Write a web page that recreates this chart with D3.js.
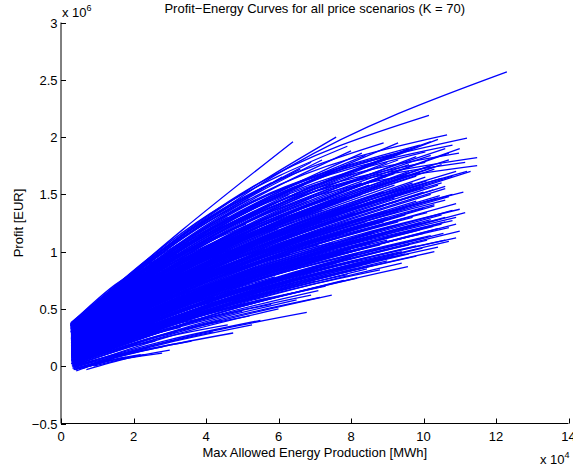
<!DOCTYPE html>
<html>
<head>
<meta charset="utf-8">
<script src="https://d3js.org/d3.v7.min.js"></script>
<style>
  body { margin: 0; background: #fff; }
  text { font-family: "Liberation Sans", Arial, Helvetica, sans-serif; fill: #000; }
</style>
</head>
<body>
<svg id="chart" width="573" height="470"></svg>
<script>
// Axis ticks (energy in 1e4 MWh, profit in 1e6 EUR)
const xTicks = [0, 2, 4, 6, 8, 10, 12, 14];
const yTicks = [-0.5, 0, 0.5, 1, 1.5, 2, 2.5, 3];
const titleText = "Profit\u2212Energy Curves for all price scenarios (K = 70)";
const xLabelText = "Max Allowed Energy Production [MWh]";
const yLabelText = "Profit [EUR]";

// Each curve: [x0, y0, xMid, yMid, x1, y1]
const outlierCurves = [
  [0.28, 0.37, 6.3, 1.74, 12.3, 2.57],
  [0.28, 0.36, 3.35, 1.19, 6.4, 1.96],
  [0.28, 0.36, 3.95, 1.28, 7.59, 2.0],
  [0.28, 0.35, 5.2, 1.55, 10.15, 2.19]
];

const upperCurves = [
  [0.3, 0.36, 5.47, 1.5, 10.65, 2.02],
  [0.3, 0.35, 5.75, 1.47, 11.2, 1.99],
  [0.3, 0.34, 5.55, 1.44, 10.8, 1.93],
  [0.3, 0.35, 5.64, 1.42, 10.98, 1.86],
  [0.3, 0.33, 5.9, 1.4, 11.48, 1.82],
  [0.3, 0.32, 5.9, 1.36, 11.48, 1.75],
  [0.3, 0.34, 5.72, 1.38, 11.15, 1.78],
  [0.29, 0.37, 4.1, 1.33, 7.9, 1.92],
  [0.3, 0.36, 4.6, 1.4, 8.9, 1.95],
  [0.3, 0.35, 5.1, 1.4, 9.9, 1.93],
  [0.3, 0.33, 5.2, 1.36, 10.05, 1.87],
  [0.3, 0.32, 5.2, 1.33, 10.05, 1.78],
  [0.3, 0.34, 4.9, 1.38, 9.5, 1.88],
  [0.3, 0.33, 4.7, 1.34, 9.1, 1.84],
  [0.3, 0.35, 3.6, 1.18, 6.9, 1.78],
  [0.3, 0.36, 3.2, 1.08, 6.1, 1.65],
  [0.27, 0.38, 3.44, 1.16, 6.6, 1.72],
  [0.27, 0.37, 3.74, 1.2, 7.2, 1.8],
  [0.27, 0.36, 4.29, 1.23, 8.3, 1.86],
  [0.27, 0.37, 4.8, 1.29, 9.3, 1.95],
  [0.27, 0.35, 5.34, 1.3, 10.4, 1.98],
  [0.28, 0.34, 4.65, 1.18, 9.0, 1.78],
  [0.28, 0.33, 5.05, 1.2, 9.8, 1.83],
  [0.27, 0.36, 3.05, 1.08, 5.8, 1.6],
  [0.28, 0.35, 4.05, 1.16, 7.8, 1.75],
  [0.28, 0.32, 5.3, 1.13, 10.3, 1.72],
  [0.28, 0.31, 4.45, 1.07, 8.6, 1.62],
  [0.28, 0.34, 3.3, 1.01, 6.3, 1.5],
  [0.28, 0.3, 4.96, 1.11, 9.6, 1.7],
  [0.28, 0.33, 5.5, 1.22, 10.7, 1.86],
  [0.27, 0.36, 2.45, 0.91, 4.6, 1.3],
  [0.27, 0.35, 1.9, 0.77, 3.5, 1.08],
  [0.28, 0.34, 3.65, 1.06, 7.0, 1.58],
  [0.28, 0.29, 4.75, 1.04, 9.2, 1.58],
  [0.27, 0.37, 4.15, 1.25, 8.0, 1.88],
  [0.28, 0.33, 5.65, 1.24, 11.0, 1.9],
  [0.28, 0.31, 5.4, 1.15, 10.5, 1.76],
  [0.28, 0.28, 5.21, 1.06, 10.1, 1.62],
  [0.28, 0.32, 5.1, 1.12, 9.9, 1.69],
  [0.27, 0.35, 4.95, 1.25, 9.6, 1.9],
  [0.28, 0.3, 4.25, 1.0, 8.2, 1.5],
  [0.27, 0.36, 2.75, 1.0, 5.2, 1.46],
  [0.28, 0.32, 3.55, 0.97, 6.8, 1.44],
  [0.28, 0.27, 5.56, 1.08, 10.8, 1.66],
  [0.28, 0.27, 5.46, 1.02, 10.6, 1.57],
  [0.28, 0.26, 5.38, 0.97, 10.45, 1.49],
  [0.28, 0.28, 5.29, 1.01, 10.27, 1.54],
  [0.28, 0.29, 5.18, 1.08, 10.05, 1.65],
  [0.28, 0.26, 5.34, 0.96, 10.35, 1.46]
];

const coreCurves = [
  [0.3, 0.05, 4.88, 0.54, 9.4, 0.9],
  [0.3, 0.04, 4.96, 0.52, 9.57, 0.87],
  [0.29, 0.08, 5.16, 0.63, 9.97, 1.03],
  [0.29, 0.12, 5.44, 0.72, 10.55, 1.16],
  [0.29, 0.14, 5.3, 0.77, 10.27, 1.22],
  [0.29, 0.15, 5.27, 0.81, 10.2, 1.28],
  [0.28, 0.18, 5.16, 0.88, 10.0, 1.38],
  [0.28, 0.17, 5.56, 0.86, 10.8, 1.36],
  [0.28, 0.16, 5.74, 0.84, 11.15, 1.34],
  [0.29, 0.1, 4.77, 0.61, 9.2, 0.98],
  [0.29, 0.11, 5.07, 0.66, 9.8, 1.05],
  [0.29, 0.13, 5.22, 0.69, 10.1, 1.1],
  [0.29, 0.15, 5.02, 0.72, 9.7, 1.14],
  [0.29, 0.16, 5.37, 0.76, 10.4, 1.2],
  [0.29, 0.17, 5.12, 0.8, 9.9, 1.25],
  [0.28, 0.19, 5.46, 0.83, 10.6, 1.3],
  [0.28, 0.2, 4.91, 0.85, 9.5, 1.32],
  [0.28, 0.21, 5.31, 0.9, 10.3, 1.4],
  [0.28, 0.22, 5.06, 0.93, 9.8, 1.44],
  [0.28, 0.23, 5.5, 0.96, 10.7, 1.48],
  [0.28, 0.24, 5.16, 0.98, 10.0, 1.52],
  [0.28, 0.25, 4.86, 1.0, 9.4, 1.55],
  [0.29, 0.09, 4.57, 0.59, 8.8, 0.95],
  [0.29, 0.12, 4.67, 0.64, 9.0, 1.02],
  [0.29, 0.14, 4.47, 0.69, 8.6, 1.08],
  [0.29, 0.16, 4.62, 0.73, 8.9, 1.15],
  [0.29, 0.18, 4.72, 0.78, 9.1, 1.22],
  [0.28, 0.2, 4.51, 0.82, 8.7, 1.26],
  [0.28, 0.22, 4.81, 0.88, 9.3, 1.35],
  [0.28, 0.24, 4.6, 0.91, 8.9, 1.4],
  [0.28, 0.26, 4.76, 0.96, 9.2, 1.47],
  [0.28, 0.27, 4.41, 0.95, 8.5, 1.45],
  [0.3, 0.06, 5.33, 0.61, 10.3, 1.0],
  [0.29, 0.09, 5.52, 0.67, 10.7, 1.09],
  [0.29, 0.11, 5.67, 0.73, 11.0, 1.18],
  [0.29, 0.13, 5.62, 0.77, 10.9, 1.24],
  [0.29, 0.14, 4.97, 0.74, 9.6, 1.18],
  [0.29, 0.17, 5.42, 0.84, 10.5, 1.32],
  [0.28, 0.19, 4.81, 0.82, 9.3, 1.27],
  [0.28, 0.2, 5.61, 0.91, 10.9, 1.42],
  [0.28, 0.21, 4.36, 0.81, 8.4, 1.24],
  [0.28, 0.23, 5.26, 0.97, 10.2, 1.5],
  [0.28, 0.25, 5.36, 1.02, 10.4, 1.58],
  [0.28, 0.26, 5.0, 1.04, 9.7, 1.6],
  [0.28, 0.28, 4.9, 1.08, 9.5, 1.66],
  [0.3, 0.07, 4.32, 0.54, 8.3, 0.88],
  [0.29, 0.1, 4.17, 0.59, 8.0, 0.95],
  [0.29, 0.13, 4.07, 0.64, 7.8, 1.0],
  [0.29, 0.15, 4.27, 0.7, 8.2, 1.1],
  [0.29, 0.18, 3.97, 0.73, 7.6, 1.12],
  [0.28, 0.2, 4.16, 0.78, 8.0, 1.2],
  [0.28, 0.22, 3.91, 0.8, 7.5, 1.22],
  [0.28, 0.24, 4.21, 0.88, 8.1, 1.34],
  [0.28, 0.26, 3.86, 0.89, 7.4, 1.34],
  [0.28, 0.28, 4.3, 0.99, 8.3, 1.5],
  [0.28, 0.29, 4.0, 0.98, 7.7, 1.48],
  [0.3, 0.06, 4.68, 0.56, 9.0, 0.92],
  [0.29, 0.08, 4.97, 0.6, 9.6, 0.98],
  [0.29, 0.12, 5.17, 0.7, 10.0, 1.12],
  [0.29, 0.16, 5.47, 0.8, 10.6, 1.26],
  [0.28, 0.18, 4.86, 0.8, 9.4, 1.24],
  [0.28, 0.21, 4.66, 0.84, 9.0, 1.3],
  [0.28, 0.24, 5.46, 1.0, 10.6, 1.55],
  [0.28, 0.27, 5.2, 1.04, 10.1, 1.6],
  [0.27, 0.3, 4.55, 1.08, 8.8, 1.64],
  [0.27, 0.31, 4.85, 1.13, 9.4, 1.72],
  [0.27, 0.29, 5.25, 1.14, 10.2, 1.75],
  [0.28, 0.25, 5.8, 1.09, 11.3, 1.7]
];

// Long curves ending on the right edge of the bundle
const longFillCurves = [
  [0.28, 0.02, 5.04, 0.58, 9.8, 0.96],
  [0.28, 0.05, 5.34, 0.64, 10.4, 1.04],
  [0.28, 0.07, 5.59, 0.7, 10.9, 1.12],
  [0.28, 0.09, 4.94, 0.67, 9.6, 1.06],
  [0.28, 0.11, 5.24, 0.73, 10.2, 1.14],
  [0.28, 0.13, 5.49, 0.78, 10.7, 1.21],
  [0.28, 0.15, 5.09, 0.77, 9.9, 1.19],
  [0.28, 0.17, 5.34, 0.84, 10.4, 1.28],
  [0.28, 0.19, 5.64, 0.9, 11.0, 1.37],
  [0.28, 0.2, 4.99, 0.86, 9.7, 1.3],
  [0.28, 0.22, 5.29, 0.93, 10.3, 1.41],
  [0.28, 0.23, 5.54, 0.99, 10.8, 1.5],
  [0.28, 0.25, 5.09, 1.0, 9.9, 1.5],
  [0.28, 0.26, 5.39, 1.06, 10.5, 1.6],
  [0.28, 0.28, 5.59, 1.13, 10.9, 1.7],
  [0.28, 0.29, 5.04, 1.11, 9.8, 1.66],
  [0.28, 0.3, 5.29, 1.16, 10.3, 1.74],
  [0.28, 0.31, 5.49, 1.2, 10.7, 1.8],
  [0.28, 0.32, 4.94, 1.18, 9.6, 1.76],
  [0.28, 0.33, 5.24, 1.24, 10.2, 1.84],
  [0.28, 0.34, 5.44, 1.28, 10.6, 1.9],
  [0.28, 0.12, 4.89, 0.7, 9.5, 1.08],
  [0.28, 0.14, 5.14, 0.75, 10.0, 1.16],
  [0.28, 0.16, 5.39, 0.81, 10.5, 1.24],
  [0.28, 0.18, 4.94, 0.8, 9.6, 1.22],
  [0.28, 0.21, 5.19, 0.89, 10.1, 1.34],
  [0.28, 0.24, 5.44, 0.97, 10.6, 1.45],
  [0.28, 0.27, 5.14, 1.04, 10.0, 1.56],
  [0.28, 0.3, 5.39, 1.1, 10.5, 1.64],
  [0.28, 0.06, 4.89, 0.61, 9.5, 0.98],
  [0.28, 0.1, 5.44, 0.7, 10.6, 1.1],
  [0.28, 0.19, 5.54, 0.84, 10.8, 1.27],
  [0.28, 0.23, 4.89, 0.92, 9.5, 1.38],
  [0.28, 0.26, 5.69, 1.02, 11.1, 1.52],
  [0.28, 0.29, 5.09, 1.05, 9.9, 1.56],
  [0.28, 0.32, 5.74, 1.15, 11.2, 1.7],
  [0.28, 0.35, 5.24, 1.32, 10.2, 1.96],
  [0.28, 0.36, 4.99, 1.28, 9.7, 1.9],
  [0.28, 0.2, 5.34, 0.96, 10.4, 1.47],
  [0.28, 0.15, 5.59, 0.84, 10.9, 1.3]
];

// Medium curves ending inside the bundle
const midFillCurves = [
  [0.29, 0.03, 3.8, 0.43, 7.3, 0.7],
  [0.29, 0.05, 4.1, 0.5, 7.9, 0.8],
  [0.29, 0.07, 4.4, 0.57, 8.5, 0.9],
  [0.29, 0.08, 4.75, 0.61, 9.2, 0.96],
  [0.29, 0.1, 3.95, 0.57, 7.6, 0.88],
  [0.29, 0.12, 4.25, 0.64, 8.2, 0.98],
  [0.29, 0.13, 4.55, 0.69, 8.8, 1.06],
  [0.29, 0.15, 3.8, 0.65, 7.3, 0.98],
  [0.29, 0.16, 4.1, 0.7, 7.9, 1.06],
  [0.29, 0.17, 4.45, 0.76, 8.6, 1.16],
  [0.29, 0.19, 4.8, 0.83, 9.3, 1.26],
  [0.28, 0.2, 3.69, 0.72, 7.1, 1.06],
  [0.28, 0.21, 4.04, 0.78, 7.8, 1.16],
  [0.28, 0.22, 4.34, 0.84, 8.4, 1.26],
  [0.28, 0.23, 4.64, 0.91, 9.0, 1.36],
  [0.28, 0.25, 3.94, 0.88, 7.6, 1.3],
  [0.28, 0.26, 4.24, 0.94, 8.2, 1.4],
  [0.28, 0.27, 4.59, 1.02, 8.9, 1.52],
  [0.28, 0.28, 3.74, 0.93, 7.2, 1.36],
  [0.28, 0.29, 4.09, 1.0, 7.9, 1.48],
  [0.28, 0.3, 4.39, 1.07, 8.5, 1.58],
  [0.28, 0.31, 4.74, 1.13, 9.2, 1.68],
  [0.27, 0.33, 3.84, 1.06, 7.4, 1.55],
  [0.27, 0.34, 4.19, 1.14, 8.1, 1.68],
  [0.27, 0.35, 4.49, 1.21, 8.7, 1.78],
  [0.27, 0.36, 3.89, 1.16, 7.5, 1.7],
  [0.27, 0.37, 4.34, 1.25, 8.4, 1.84],
  [0.29, 0.04, 4.55, 0.52, 8.8, 0.84],
  [0.29, 0.09, 4.85, 0.64, 9.4, 1.0],
  [0.29, 0.11, 3.65, 0.55, 7.0, 0.84],
  [0.29, 0.14, 4.65, 0.72, 9.0, 1.1],
  [0.29, 0.18, 3.9, 0.72, 7.5, 1.08],
  [0.28, 0.22, 4.84, 0.88, 9.4, 1.32],
  [0.28, 0.24, 3.64, 0.82, 7.0, 1.2],
  [0.28, 0.27, 4.84, 1.01, 9.4, 1.5],
  [0.28, 0.3, 3.94, 1.0, 7.6, 1.46],
  [0.28, 0.32, 4.64, 1.12, 9.0, 1.66],
  [0.27, 0.35, 4.09, 1.18, 7.9, 1.74],
  [0.29, 0.06, 4.2, 0.53, 8.1, 0.85],
  [0.29, 0.13, 4.15, 0.66, 8.0, 1.02],
  [0.28, 0.2, 4.59, 0.84, 8.9, 1.26],
  [0.28, 0.25, 4.44, 0.95, 8.6, 1.42],
  [0.28, 0.31, 4.29, 1.08, 8.3, 1.6],
  [0.27, 0.33, 4.79, 1.21, 9.3, 1.8],
  [0.28, 0.24, 4.79, 0.96, 9.3, 1.44]
];

// Shorter curves in the left half of the bundle
const shortFillCurves = [
  [0.3, 0.0, 2.45, 0.22, 4.6, 0.36],
  [0.3, 0.02, 2.75, 0.27, 5.2, 0.44],
  [0.3, 0.04, 3.05, 0.34, 5.8, 0.54],
  [0.3, 0.06, 3.35, 0.41, 6.4, 0.64],
  [0.29, 0.08, 2.55, 0.34, 4.8, 0.52],
  [0.29, 0.1, 2.9, 0.44, 5.5, 0.66],
  [0.29, 0.12, 3.25, 0.52, 6.2, 0.78],
  [0.29, 0.14, 3.55, 0.6, 6.8, 0.9],
  [0.29, 0.15, 2.4, 0.47, 4.5, 0.68],
  [0.29, 0.17, 2.75, 0.56, 5.2, 0.82],
  [0.29, 0.19, 3.1, 0.65, 5.9, 0.96],
  [0.28, 0.21, 3.44, 0.74, 6.6, 1.1],
  [0.28, 0.22, 2.29, 0.57, 4.3, 0.8],
  [0.28, 0.24, 2.64, 0.67, 5.0, 0.96],
  [0.28, 0.26, 2.99, 0.78, 5.7, 1.12],
  [0.28, 0.27, 3.34, 0.86, 6.4, 1.26],
  [0.28, 0.29, 2.49, 0.73, 4.7, 1.02],
  [0.28, 0.3, 2.84, 0.83, 5.4, 1.18],
  [0.28, 0.31, 3.19, 0.92, 6.1, 1.32],
  [0.27, 0.33, 2.34, 0.78, 4.4, 1.08],
  [0.27, 0.34, 2.69, 0.88, 5.1, 1.24],
  [0.27, 0.35, 3.09, 0.99, 5.9, 1.42],
  [0.27, 0.36, 3.49, 1.09, 6.7, 1.58],
  [0.3, 0.03, 3.6, 0.38, 6.9, 0.62],
  [0.29, 0.09, 3.1, 0.43, 5.9, 0.66],
  [0.29, 0.13, 2.25, 0.41, 4.2, 0.6],
  [0.29, 0.18, 3.3, 0.66, 6.3, 0.98],
  [0.28, 0.23, 2.94, 0.7, 5.6, 1.02],
  [0.28, 0.28, 3.59, 0.92, 6.9, 1.34],
  [0.27, 0.32, 2.99, 0.91, 5.7, 1.3],
  [0.32, -0.01, 1.16, 0.07, 2.0, 0.13],
  [0.31, 0.02, 1.46, 0.14, 2.6, 0.22],
  [0.3, 0.05, 1.8, 0.22, 3.3, 0.34],
  [0.3, 0.08, 1.1, 0.2, 1.9, 0.28],
  [0.29, 0.11, 1.5, 0.31, 2.7, 0.44],
  [0.29, 0.14, 1.95, 0.42, 3.6, 0.6],
  [0.29, 0.17, 1.25, 0.34, 2.2, 0.46],
  [0.28, 0.2, 1.64, 0.44, 3.0, 0.6],
  [0.28, 0.23, 2.04, 0.57, 3.8, 0.8],
  [0.28, 0.26, 1.34, 0.48, 2.4, 0.62],
  [0.28, 0.29, 1.84, 0.63, 3.4, 0.86],
  [0.27, 0.32, 1.14, 0.56, 2.0, 0.72],
  [0.27, 0.35, 1.74, 0.73, 3.2, 0.98],
  [0.27, 0.37, 1.49, 0.71, 2.7, 0.94],
  [0.3, 0.06, 2.1, 0.28, 3.9, 0.42],
  [0.35, -0.03, 0.88, 0.02, 1.4, 0.06],
  [0.5, -0.02, 1.4, 0.05, 2.3, 0.1],
  [0.29, 0.13, 1.0, 0.24, 1.7, 0.32],
  [0.28, 0.24, 0.94, 0.4, 1.6, 0.5],
  [0.28, 0.3, 0.79, 0.46, 1.3, 0.56]
];

const lowerCurves = [
  [0.9, 0.0, 1.85, 0.07, 2.79, 0.115],
  [1.0, 0.03, 1.9, 0.11, 2.8, 0.17],
  [0.35, -0.02, 2.63, 0.16, 4.75, 0.29],
  [0.35, -0.01, 2.89, 0.2, 5.27, 0.36],
  [0.33, 0.0, 2.98, 0.23, 5.5, 0.4],
  [0.35, 0.0, 3.64, 0.27, 6.78, 0.47],
  [0.33, 0.02, 3.8, 0.36, 7.15, 0.6],
  [0.33, 0.03, 3.78, 0.4, 7.1, 0.66],
  [0.33, 0.01, 3.96, 0.36, 7.47, 0.62],
  [0.31, 0.03, 4.29, 0.46, 8.17, 0.77],
  [0.31, 0.05, 4.33, 0.56, 8.25, 0.93],
  [0.31, 0.04, 4.42, 0.51, 8.44, 0.85],
  [0.4, -0.03, 2.0, 0.12, 3.6, 0.22],
  [0.42, -0.04, 2.31, 0.16, 4.2, 0.3],
  [0.32, -0.02, 3.2, 0.28, 6.0, 0.5],
  [0.32, 0.0, 3.45, 0.34, 6.5, 0.58],
  [0.3, 0.02, 4.09, 0.44, 7.8, 0.75],
  [0.3, 0.04, 4.49, 0.53, 8.6, 0.88],
  [0.3, 0.06, 3.69, 0.45, 7.0, 0.74],
  [0.3, 0.07, 4.19, 0.54, 8.0, 0.88],
  [0.3, 0.08, 3.39, 0.45, 6.4, 0.72],
  [0.3, 0.05, 3.09, 0.37, 5.8, 0.6],
  [0.31, 0.03, 2.69, 0.29, 5.0, 0.48],
  [0.31, 0.01, 2.39, 0.24, 4.4, 0.4],
  [0.29, 0.09, 3.63, 0.51, 6.9, 0.82],
  [0.29, 0.1, 3.98, 0.56, 7.6, 0.9],
  [0.29, 0.11, 3.13, 0.5, 5.9, 0.78],
  [0.29, 0.12, 3.48, 0.57, 6.6, 0.9],
  [0.29, 0.13, 2.63, 0.48, 4.9, 0.74],
  [0.29, 0.14, 2.98, 0.56, 5.6, 0.86],
  [0.7, -0.03, 1.85, 0.07, 3.0, 0.14],
  [0.8, 0.0, 1.5, 0.06, 2.2, 0.1],
  [0.6, -0.02, 1.2, 0.04, 1.8, 0.08],
  [0.39, -0.03, 1.4, 0.08, 2.4, 0.16],
  [0.33, 0.02, 1.8, 0.18, 3.2, 0.3],
  [0.31, 0.05, 2.09, 0.25, 3.8, 0.4],
  [0.3, 0.07, 2.39, 0.33, 4.4, 0.52],
  [0.29, 0.1, 1.93, 0.33, 3.5, 0.5],
  [0.29, 0.15, 2.18, 0.45, 4.0, 0.66],
  [0.29, 0.16, 2.68, 0.56, 5.0, 0.85]
];

const shortCurves = [
  [0.27, 0.3, 1.65, 0.65, 3.0, 0.9],
  [0.28, 0.25, 2.16, 0.69, 4.0, 1.0],
  [0.28, 0.2, 2.66, 0.69, 5.0, 1.05],
  [0.28, 0.22, 3.16, 0.79, 6.0, 1.2],
  [0.28, 0.27, 2.9, 0.84, 5.5, 1.25],
  [0.29, 0.18, 2.42, 0.6, 4.5, 0.9],
  [0.29, 0.17, 3.42, 0.7, 6.5, 1.08],
  [0.29, 0.12, 3.07, 0.56, 5.8, 0.88],
  [0.27, 0.33, 2.15, 0.81, 4.0, 1.15],
  [0.27, 0.34, 1.4, 0.62, 2.5, 0.82],
  [0.28, 0.28, 3.6, 0.91, 6.9, 1.36],
  [0.28, 0.23, 3.76, 0.83, 7.2, 1.27]
];

const lineColor = "#0000ff";

const svg = d3.select("#chart");
const x = d3.scaleLinear().domain([0, 14]).range([61, 568.5]);
const y = d3.scaleLinear().domain([-0.5, 3]).range([423.5, 22.5]);

// Curves
const line = d3.line()
  .x(d => x(d[0]))
  .y(d => y(d[1]))
  .curve(d3.curveMonotoneX);

const allCurves = [].concat(lowerCurves, shortFillCurves, midFillCurves, longFillCurves,
  coreCurves, shortCurves, upperCurves, outlierCurves);
svg.append("g")
  .selectAll("path")
  .data(allCurves)
  .join("path")
  .attr("d", c => line([[c[0], c[1]], [c[2], c[3]], [c[4], c[5]]]))
  .attr("fill", "none")
  .attr("stroke", lineColor)
  .attr("stroke-width", 1.3);

// Number format with a true minus sign
const fmt = v => (v < 0 ? "\u2212" : "") + String(Math.abs(v));

// Bottom axis
const gx = svg.append("g");
gx.append("line")
  .attr("x1", x(0)).attr("x2", x(14))
  .attr("y1", y(-0.5)).attr("y2", y(-0.5))
  .attr("stroke", "#000").attr("stroke-width", 1);
gx.selectAll("line.tick")
  .data(xTicks).join("line").attr("class", "tick")
  .attr("x1", d => Math.round(x(d)) + 0.5).attr("x2", d => Math.round(x(d)) + 0.5)
  .attr("y1", y(-0.5)).attr("y2", y(-0.5) - 5)
  .attr("stroke", "#000");
gx.selectAll("text")
  .data(xTicks).join("text")
  .attr("x", d => x(d)).attr("y", y(-0.5) + 17.5)
  .attr("text-anchor", "middle").attr("font-size", 13)
  .text(fmt);

// Left axis
const gy = svg.append("g");
gy.append("line")
  .attr("x1", x(0)).attr("x2", x(0))
  .attr("y1", y(-0.5)).attr("y2", y(3))
  .attr("stroke", "#000").attr("stroke-width", 1);
gy.selectAll("line.tick")
  .data(yTicks).join("line").attr("class", "tick")
  .attr("x1", x(0)).attr("x2", x(0) + 5)
  .attr("y1", d => Math.round(y(d)) + 0.5).attr("y2", d => Math.round(y(d)) + 0.5)
  .attr("stroke", "#000");
gy.selectAll("text")
  .data(yTicks).join("text")
  .attr("x", x(0) - 3.5).attr("y", d => y(d) + 5)
  .attr("text-anchor", "end").attr("font-size", 13)
  .text(fmt);

// Exponent multipliers
const expTop = svg.append("text").attr("x", 62).attr("y", 17).attr("font-size", 13);
expTop.append("tspan").text("x 10");
expTop.append("tspan").attr("dy", -6).attr("font-size", 9).text("6");

const expBottom = svg.append("text").attr("x", 540).attr("y", 464).attr("font-size", 13);
expBottom.append("tspan").text("x 10");
expBottom.append("tspan").attr("dy", -6).attr("font-size", 9).text("4");

// Title and axis labels
svg.append("text")
  .attr("x", (x(0) + x(14)) / 2).attr("y", 13)
  .attr("text-anchor", "middle").attr("font-size", 13)
  .text(titleText);

svg.append("text")
  .attr("x", (x(0) + x(14)) / 2).attr("y", 457)
  .attr("text-anchor", "middle").attr("font-size", 13)
  .text(xLabelText);

svg.append("text")
  .attr("transform", `translate(23,${(y(-0.5) + y(3)) / 2}) rotate(-90)`)
  .attr("text-anchor", "middle").attr("font-size", 13)
  .text(yLabelText);
</script>
</body>
</html>
